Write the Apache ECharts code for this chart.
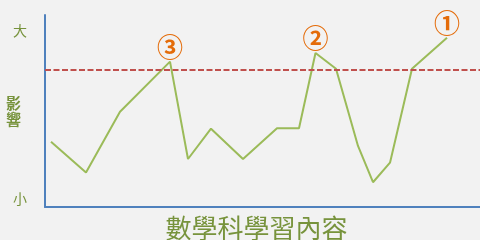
<!DOCTYPE html>
<html>
<head>
<meta charset="utf-8">
<script src="https://cdn.jsdelivr.net/npm/echarts@6/dist/echarts.min.js"></script>
<style>
html,body{margin:0;padding:0;background:#f2f2f2;}
#c{width:480px;height:240px;}
</style>
</head>
<body>
<div id="c"></div>
<script>
// Horizontal positions of the learning-content points (relative units)
var xValues = [6, 41, 75, 125, 143, 166, 198, 232, 254, 270.5, 291, 313, 328, 345, 367, 402];
// Influence level (0 = 小 ... 100 = 大)
var yValues = [34, 18, 49.6, 75.7, 25, 40.8, 25, 41, 41, 80.2, 72, 31.8, 12.9, 23.1, 72, 88.2];
// Circled rank markers on peaks
var pointMarks = ['', '', '', '③', '', '', '', '', '', '②', '', '', '', '', '', '①'];
var thresholdValue = 71.5;
var yTickValues = [4.2, 91.7];
var yTickLabels = ['小', '大'];
var yAxisTitle = '影\n響';
var xAxisTitle = '數學科學習內容';

var font = '"Noto Sans CJK TC", "Noto Sans CJK SC", sans-serif';
var green = '#77933c';

var lineData = xValues.map(function (x, i) {
  var item = { value: [x, yValues[i]] };
  if (pointMarks[i]) {
    item.label = { show: true, formatter: pointMarks[i] };
  }
  return item;
});

var chart = echarts.init(document.getElementById('c'), null, { renderer: 'canvas' });
chart.setOption({
  backgroundColor: '#f2f2f2',
  animation: false,
  grid: { left: 45, right: 0, top: 15, bottom: 33, containLabel: false, outerBoundsMode: 'none' },
  xAxis: {
    type: 'value', min: 0, max: 435,
    name: xAxisTitle, nameLocation: 'middle', nameGap: 8, nameMoveOverlap: false,
    nameTextStyle: { color: green, fontSize: 26, fontFamily: font, padding: [0, 12, 0, 0], verticalAlign: 'top' },
    axisLine: { show: true, lineStyle: { color: '#4f81bd', width: 2 } },
    axisTick: { show: false }, axisLabel: { show: false }, splitLine: { show: false }
  },
  yAxis: {
    type: 'value', min: 0, max: 100,
    name: yAxisTitle, nameLocation: 'middle', nameGap: 24, nameRotate: 0, nameMoveOverlap: false,
    nameTextStyle: { color: green, fontSize: 15, lineHeight: 16, fontFamily: font, fontWeight: 'bold', padding: [0, 0, 8, 0] },
    axisLine: { show: true, lineStyle: { color: '#4f81bd', width: 2 } },
    axisTick: { show: false },
    splitLine: { show: false },
    axisLabel: {
      customValues: yTickValues,
      margin: 18, color: green, fontSize: 14, fontFamily: font,
      formatter: function (v) {
        var idx = yTickValues.indexOf(v);
        return idx >= 0 ? yTickLabels[idx] : '';
      }
    }
  },
  series: [{
    type: 'line',
    data: lineData,
    symbol: 'circle', symbolSize: 0, showSymbol: true,
    lineStyle: { color: '#9bbb59', width: 2 },
    itemStyle: { color: '#9bbb59' },
    label: { show: false, position: 'top', distance: 2, color: '#e46c0a', fontSize: 26, lineHeight: 26, fontWeight: 'bold', fontFamily: font },
    markLine: {
      silent: true, symbol: 'none',
      label: { show: false },
      lineStyle: { color: '#c0504d', width: 2, type: [6, 2.5] },
      data: [{ yAxis: thresholdValue }]
    },
    z: 3
  }]
});
</script>
</body>
</html>
